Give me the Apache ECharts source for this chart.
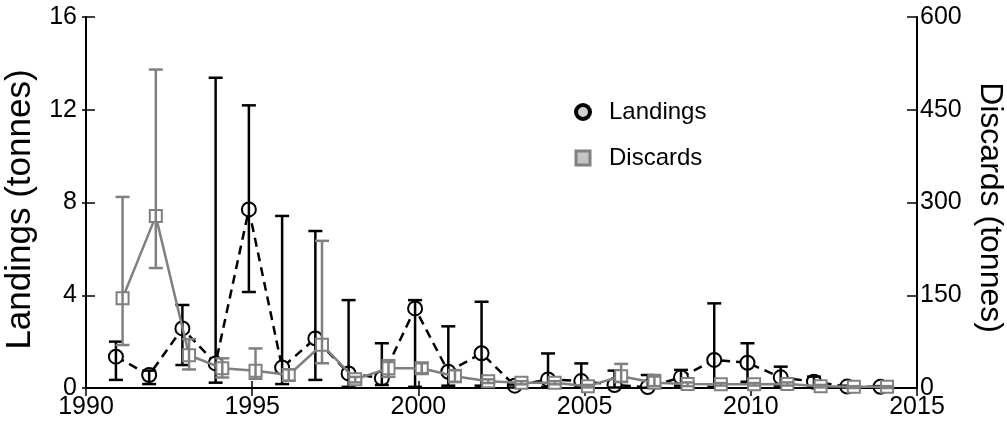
<!DOCTYPE html>
<html>
<head>
<meta charset="utf-8">
<script src="https://cdn.jsdelivr.net/npm/echarts@6/dist/echarts.min.js"></script>
<style>
  html, body { margin: 0; padding: 0; background: #fff; }
  #chart { width: 1007px; height: 424px; }
</style>
</head>
<body>
<div id="chart"></div>
<script>
// Survey years
const years = [1991, 1992, 1993, 1994, 1995, 1996, 1997, 1998, 1999, 2000, 2001, 2002,
               2003, 2004, 2005, 2006, 2007, 2008, 2009, 2010, 2011, 2012, 2013, 2014];

// Landings (tonnes) with lower / upper bounds
const landings = [1.35, 0.56, 2.57, 1.06, 7.7, 0.88, 2.14, 0.63, 0.42, 3.43, 0.7, 1.5,
                  0.1, 0.37, 0.3, 0.13, 0.04, 0.46, 1.21, 1.09, 0.46, 0.27, 0.06, 0.05];
const landLow  = [0.35, 0.17, 0.99, 0.23, 4.14, 0.17, 0.35, 0.05, 0.13, 0.05, 0.1, 0.1,
                  0.02, 0.05, 0.03, 0.02, 0.01, 0.1, 0.05, 0.27, 0.1, 0.05, 0.02, 0.02];
const landHigh = [2.0, 0.75, 3.58, 13.38, 12.19, 7.42, 6.77, 3.79, 1.93, 3.79, 2.66, 3.72,
                  0.15, 1.49, 1.06, 0.75, 0.56, 0.78, 3.65, 1.93, 0.92, 0.49, 0.1, 0.08];

// Discards (tonnes) with lower / upper bounds
const discards = [145, 278, 53, 32, 28, 21, 70, 14, 32, 32, 19, 11,
                  8.6, 8.6, 3, 19, 8.6, 6.5, 6, 6, 6.5, 3, 2, 2];
const discLow  = [69.5, 194, 30, 17, 15, 12, 40, 9, 18, 24, 10, 8,
                  6, 6, 1, 10, 3, 3, 4, 4, 4, 1, 0, 0];
const discHigh = [309, 515, 79, 48, 64, 30, 238, 18, 45, 40, 29, 14,
                  11, 11, 5, 39, 21, 9, 8, 8, 9, 5, 3, 3];

// Axis ticks
const xTicks = { min: 1990, max: 2015, step: 5 };
const landTicks = { min: 0, max: 16, step: 4 };
const discTicks = { min: 0, max: 600, step: 150 };

// The two series are nudged apart horizontally so their error bars don't overlap
const LAND_SHIFT = -0.1;
const DISC_SHIFT = 0.1;

const FONT = 'Liberation Sans, Arial, sans-serif';
const GREY = '#808080';

const landPts = years.map((y, i) => [y + LAND_SHIFT, landings[i]]);
const discPts = years.map((y, i) => [y + DISC_SHIFT, discards[i]]);
const landBars = years.map((y, i) => [y + LAND_SHIFT, landLow[i], landHigh[i]]);
const discBars = years.map((y, i) => [y + DISC_SHIFT, discLow[i], discHigh[i]]);

function errorBar(color, width, capHalf) {
  return function (params, api) {
    const x = api.value(0);
    const lo = api.coord([x, api.value(1)]);
    const hi = api.coord([x, api.value(2)]);
    const style = { stroke: color, lineWidth: width, fill: null };
    return {
      type: 'group',
      children: [
        { type: 'line', shape: { x1: lo[0], y1: lo[1], x2: hi[0], y2: hi[1] }, style },
        { type: 'line', shape: { x1: hi[0] - capHalf, y1: hi[1], x2: hi[0] + capHalf, y2: hi[1] }, style },
        { type: 'line', shape: { x1: lo[0] - capHalf, y1: lo[1], x2: lo[0] + capHalf, y2: lo[1] }, style }
      ]
    };
  };
}

const axisLine = { show: true, lineStyle: { color: '#000', width: 2 } };
const labelStyle = { color: '#000', fontSize: 25, fontFamily: FONT, formatter: v => String(v) };

const chart = echarts.init(document.getElementById('chart'), null, { renderer: 'canvas' });
chart.setOption({
  backgroundColor: '#fff',
  animation: false,
  grid: { left: 86, right: 90, top: 17, bottom: 36, containLabel: false, outerBoundsMode: 'none' },
  legend: {
    orient: 'vertical',
    left: 569,
    top: 95,
    itemWidth: 14,
    itemHeight: 14,
    itemGap: 22,
    selectedMode: false,
    textStyle: { color: '#000', fontSize: 24, fontFamily: FONT, padding: [0, 0, 0, 14] },
    data: [
      { name: 'Landings', icon: 'circle',
        itemStyle: { color: '#d0d0d0', borderColor: '#000', borderWidth: 4 } },
      { name: 'Discards', icon: 'rect',
        itemStyle: { color: '#c4c4c4', borderColor: GREY, borderWidth: 3 } }
    ]
  },
  xAxis: [
    {
      type: 'value', position: 'bottom',
      min: xTicks.min, max: xTicks.max, interval: xTicks.step,
      axisLine,
      axisTick: { show: true, inside: true, length: 7, lineStyle: { color: '#000', width: 1.5 } },
      axisLabel: { ...labelStyle, margin: 7, showMinLabel: true, showMaxLabel: true },
      splitLine: { show: false }
    },
    {
      type: 'value', position: 'top',
      min: xTicks.min, max: xTicks.max, interval: xTicks.step,
      axisLine,
      axisTick: { show: true, inside: true, length: 8, lineStyle: { color: '#000', width: 1.5 } },
      axisLabel: { show: false },
      splitLine: { show: false }
    }
  ],
  yAxis: [
    {
      type: 'value', position: 'left',
      min: landTicks.min, max: landTicks.max, interval: landTicks.step,
      axisLine,
      axisTick: { show: true, inside: true, length: 9, lineStyle: { color: '#000', width: 1.5 } },
      axisLabel: { ...labelStyle, margin: 9 },
      splitLine: { show: false },
      name: 'Landings (tonnes)',
      nameLocation: 'middle',
      nameGap: 45,
      nameTextStyle: { color: '#000', fontSize: 35, fontFamily: FONT, padding: [0, 14, 0, 0] }
    },
    {
      type: 'value', position: 'right',
      min: discTicks.min, max: discTicks.max, interval: discTicks.step,
      axisLine,
      axisTick: { show: true, inside: true, length: 10, lineStyle: { color: '#000', width: 1.5 } },
      axisLabel: { ...labelStyle, margin: 3 },
      splitLine: { show: false },
      name: 'Discards (tonnes)',
      nameLocation: 'middle',
      nameRotate: -90,
      nameGap: 57,
      nameTextStyle: { color: '#000', fontSize: 32, fontFamily: FONT, padding: [0, 0, 0, 10] }
    },
    {
      // short outward stubs on the left axis
      type: 'value', position: 'left',
      min: landTicks.min, max: landTicks.max, interval: landTicks.step,
      axisLine: { show: false },
      axisTick: { show: true, inside: false, length: 4, lineStyle: { color: '#000', width: 1.5 } },
      axisLabel: { show: false },
      splitLine: { show: false }
    }
  ],
  series: [
    {
      name: 'Landings',
      type: 'line',
      xAxisIndex: 0, yAxisIndex: 0,
      data: landPts,
      z: 2,
      symbol: 'emptyCircle',
      symbolSize: 14,
      lineStyle: { color: '#000', width: 2.5, type: [9, 6] },
      itemStyle: { color: '#000', borderColor: '#000', borderWidth: 2.5 }
    },
    {
      name: 'LandingsError',
      type: 'custom',
      xAxisIndex: 0, yAxisIndex: 0,
      data: landBars,
      z: 3,
      renderItem: errorBar('#000', 2.5, 7),
      silent: true
    },
    {
      name: 'Discards',
      type: 'line',
      xAxisIndex: 0, yAxisIndex: 1,
      data: discPts,
      z: 4,
      symbol: 'emptyRect',
      symbolSize: 12,
      lineStyle: { color: GREY, width: 2.5 },
      itemStyle: { color: GREY, borderColor: GREY, borderWidth: 2.5 }
    },
    {
      name: 'DiscardsError',
      type: 'custom',
      xAxisIndex: 0, yAxisIndex: 1,
      data: discBars,
      z: 5,
      renderItem: errorBar(GREY, 2.5, 7),
      silent: true
    }
  ]
});
</script>
</body>
</html>
